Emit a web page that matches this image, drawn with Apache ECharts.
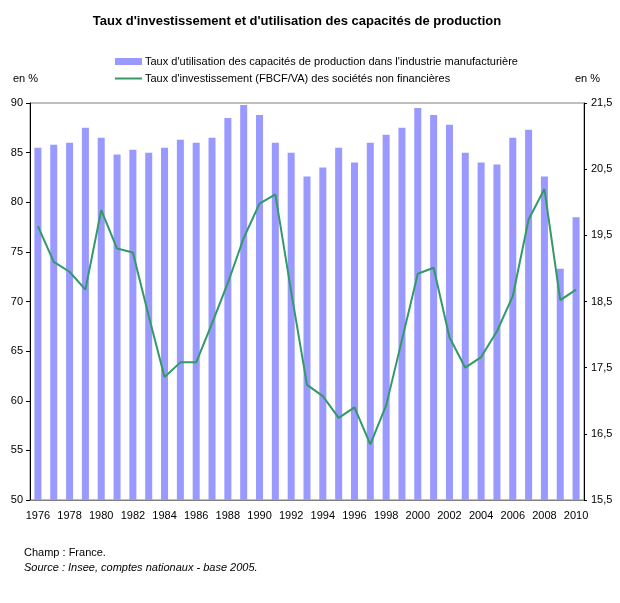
<!DOCTYPE html>
<html>
<head>
<meta charset="utf-8">
<script src="https://cdn.jsdelivr.net/npm/echarts@6/dist/echarts.min.js"></script>
<style>
  html, body { margin: 0; padding: 0; background: #fff; }
  #chart { width: 620px; height: 603px; }
</style>
</head>
<body>
<div id="chart"></div>
<script>
// années
const years = ['1976', '1977', '1978', '1979', '1980', '1981', '1982', '1983', '1984', '1985',
  '1986', '1987', '1988', '1989', '1990', '1991', '1992', '1993', '1994', '1995',
  '1996', '1997', '1998', '1999', '2000', '2001', '2002', '2003', '2004', '2005',
  '2006', '2007', '2008', '2009', '2010'];

// taux d'utilisation des capacités (axe de gauche, en %)
const utilisation = [85.5, 85.8, 86.0, 87.5, 86.5, 84.8, 85.3, 85.0, 85.5, 86.3,
  86.0, 86.5, 88.5, 89.8, 88.8, 86.0, 85.0, 82.6, 83.5, 85.5,
  84.0, 86.0, 86.8, 87.5, 89.5, 88.8, 87.8, 85.0, 84.0, 83.8,
  86.5, 87.3, 82.6, 73.3, 78.5];

// taux d'investissement FBCF/VA (axe de droite, en %)
const investissement = [19.64, 19.10, 18.95, 18.68, 19.88, 19.30, 19.24, 18.28, 17.36, 17.58,
  17.58, 18.17, 18.78, 19.46, 19.98, 20.12, 18.65, 17.24, 17.07, 16.74,
  16.90, 16.34, 16.93, 17.92, 18.92, 19.01, 17.96, 17.50, 17.66, 18.05,
  18.58, 19.74, 20.20, 18.52, 18.68];

const nomBarres = "Taux d'utilisation des capacités de production dans l'industrie manufacturière";
const nomLigne = "Taux d'investissement (FBCF/VA) des sociétés non financières";

const police = 'Liberation Sans, Arial, sans-serif';

let myChart = echarts.init(document.getElementById('chart'));

const option = {
  backgroundColor: '#fff',
  animation: false,
  textStyle: { fontFamily: police },
  title: {
    text: "Taux d'investissement et d'utilisation des capacités de production",
    left: 292,
    textAlign: 'center',
    top: 10,
    textStyle: { fontSize: 13, fontWeight: 'bold', color: '#000', fontFamily: police }
  },
  legend: {
    orient: 'vertical',
    left: 110,
    top: 51,
    itemWidth: 27,
    itemHeight: 7,
    itemGap: 6,
    textStyle: { fontSize: 11, color: '#000', padding: [0, 0, 0, -2] },
    data: [
      { name: nomBarres, icon: 'rect' },
      // trait fin : les M vides fixent la boîte 27x7
      { name: nomLigne, icon: 'path://M0,0 M27,7 M0,2.5 L27,2.5 L27,4.5 L0,4.5 Z' }
    ]
  },
  grid: {
    left: 30,
    right: 36,
    top: 103,
    bottom: 103,
    show: true,
    borderColor: '#808080',
    borderWidth: 1
  },
  xAxis: {
    type: 'category',
    data: years,
    axisLine: { lineStyle: { color: '#808080', width: 1 } },
    axisTick: { show: false },
    axisLabel: { interval: 1, color: '#000', fontSize: 11, margin: 10 }
  },
  yAxis: [
    {
      type: 'value',
      min: 50,
      max: 90,
      interval: 5,
      name: 'en %',
      nameLocation: 'end',
      nameGap: 19,
      nameTextStyle: { color: '#000', fontSize: 11, align: 'left', padding: [0, 0, 0, -17] },
      axisLine: { show: true, lineStyle: { color: '#000', width: 1 } },
      axisTick: { show: true, length: 4, lineStyle: { color: '#000' } },
      splitLine: { show: false },
      axisLabel: { color: '#000', fontSize: 11, margin: 7 }
    },
    {
      type: 'value',
      min: 15.5,
      max: 21.5,
      interval: 1,
      name: 'en %',
      nameLocation: 'end',
      nameGap: 19,
      nameTextStyle: { color: '#000', fontSize: 11, align: 'left', padding: [0, 0, 0, -9] },
      axisLine: { show: true, lineStyle: { color: '#000', width: 1 } },
      axisTick: { show: true, length: 3, lineStyle: { color: '#000' } },
      splitLine: { show: false },
      axisLabel: {
        color: '#000',
        fontSize: 11,
        margin: 7,
        formatter: v => v.toFixed(1).replace('.', ',')
      }
    }
  ],
  series: [
    {
      name: nomBarres,
      type: 'bar',
      yAxisIndex: 0,
      barWidth: 7,
      itemStyle: { color: '#9999FF' },
      data: utilisation
    },
    {
      name: nomLigne,
      type: 'line',
      yAxisIndex: 1,
      symbol: 'none',
      lineStyle: { color: '#339966', width: 2 },
      itemStyle: { color: '#339966' },
      data: investissement
    }
  ],
  graphic: [
    {
      type: 'text',
      left: 24,
      top: 547,
      style: { text: 'Champ : France.', font: '11px ' + police, fill: '#000' }
    },
    {
      type: 'text',
      left: 24,
      top: 562,
      style: { text: 'Source : Insee, comptes nationaux - base 2005.', font: 'italic 11px ' + police, fill: '#000' }
    }
  ]
};

myChart.setOption(option);
</script>
</body>
</html>
